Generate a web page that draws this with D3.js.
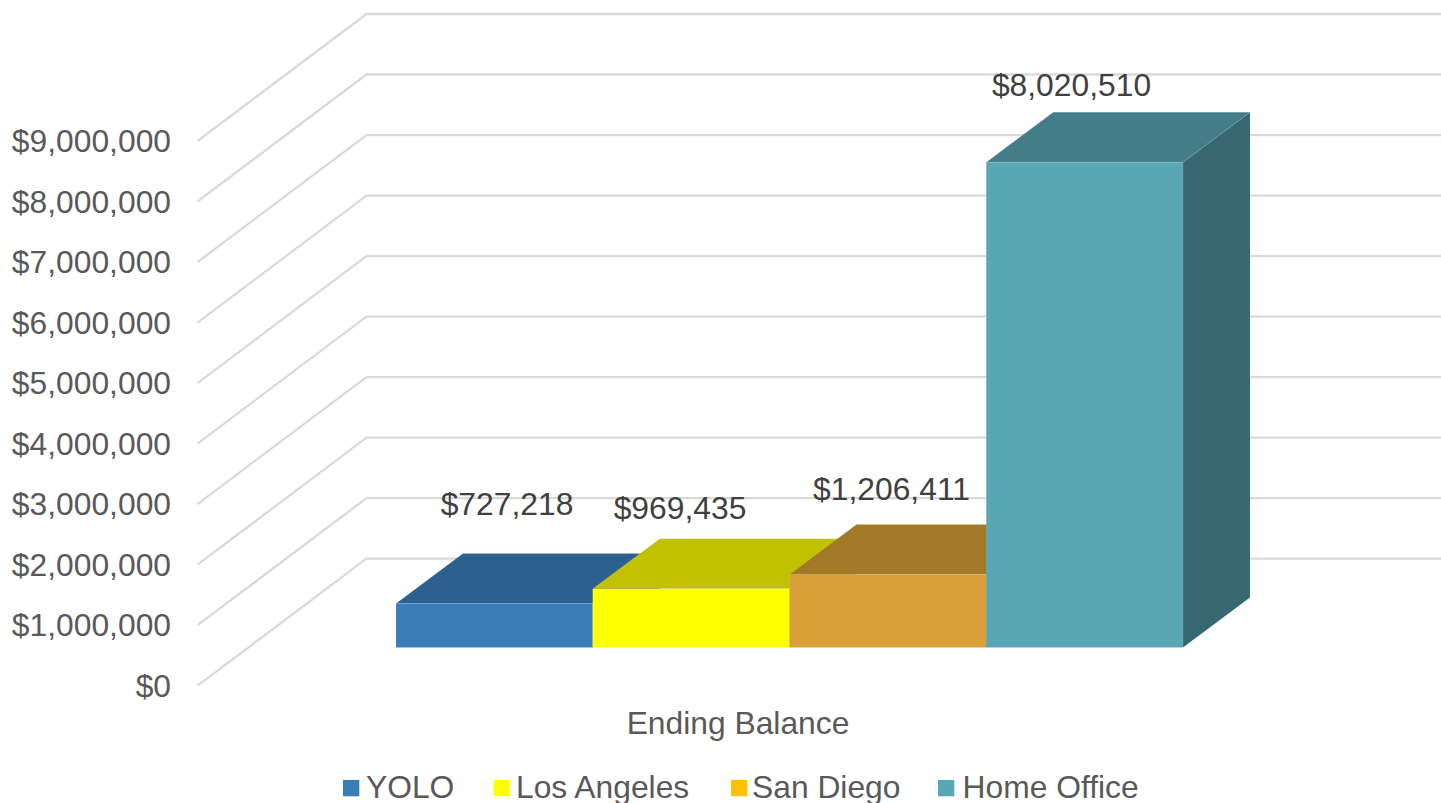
<!DOCTYPE html>
<html><head><meta charset="utf-8">
<script src="https://cdn.jsdelivr.net/npm/d3@7"></script>
<style>html,body{margin:0;padding:0;background:#fff;overflow:hidden}svg{display:block}text{font-family:"Liberation Sans",Arial,sans-serif}</style>
</head><body><svg id="c" width="1441" height="803"></svg>
<script>
const categories = ["Ending Balance"];
const seriesNames = ["YOLO","Los Angeles","San Diego","Home Office"];
const seriesValues = [727218,969435,1206411,8020510];
const valueLabels = ["$727,218","$969,435","$1,206,411","$8,020,510"];
const frontColors = ["#3A7EB8","#FFFF00","#D99F38","#59A6B4"];
const topColors = ["#2C618F","#C1C100","#A27829","#437D87"];
const sideColors = ["#265474","#A8A800","#8C6823","#376770"];
const legendColors = ["#3A7EB8","#FFFF00","#FFC000","#59A6B4"];
const tickValues = [0,1e6,2e6,3e6,4e6,5e6,6e6,7e6,8e6,9e6];

const svg = d3.select("#c");
const yFront = d3.scaleLinear().domain([0,9e6]).range([685.7,141]);
const yBack  = d3.scaleLinear().domain([0,9e6]).range([558.7,14]);
const yBar   = d3.scaleLinear().domain([0,9e6]).range([647.5,647.5-9*60.5]);
const xBar   = d3.scaleBand().domain(seriesNames).range([396,1183]);
const wallLeft = 197.5, wallBack = 366.5, wallRight = 1441;
const depthX = 67, depthY = 50;
const fmt = d3.format("$,");

// gridlines on side wall and back wall
svg.append("g").selectAll("path").data(tickValues).join("path")
  .attr("fill","none").attr("stroke","#DADADA").attr("stroke-width",2.3)
  .attr("d",d=>d3.line()([[wallLeft,yFront(d)],[wallBack,yBack(d)],[wallRight,yBack(d)]]));

// axis labels
svg.append("g").selectAll("text").data(tickValues).join("text")
  .attr("x",171).attr("y",d=>yFront(d)+11).attr("text-anchor","end")
  .attr("font-size",31.8).attr("fill","#595959").text(d=>fmt(d));

// bars
const bars = svg.append("g").selectAll("g").data(seriesNames).join("g");
bars.each(function(name,i){
  const g = d3.select(this);
  const x0 = xBar(name), x1 = x0 + xBar.bandwidth();
  const yt = yBar(seriesValues[i]), yb = yBar(0);
  const edge = p => p.attr("stroke","#fff").attr("stroke-opacity",0.08).attr("stroke-width",1);
  g.append("path").attr("fill",sideColors[i]).call(edge)
    .attr("d",d3.line()([[x1,yt],[x1+depthX,yt-depthY],[x1+depthX,yb-depthY],[x1,yb]])+"Z");
  g.append("path").attr("fill",topColors[i]).call(edge)
    .attr("d",d3.line()([[x0,yt],[x0+depthX,yt-depthY],[x1+depthX,yt-depthY],[x1,yt]])+"Z");
  g.append("rect").attr("x",x0).attr("y",yt).attr("width",x1-x0).attr("height",yb-yt)
    .attr("fill",frontColors[i]).call(edge);
});

// value labels
const labelCx = [507,680,891.5,1071.5];
const labelBase = [515,519,500,96];
svg.append("g").selectAll("text").data(valueLabels).join("text")
  .attr("x",(d,i)=>labelCx[i]).attr("y",(d,i)=>labelBase[i]).attr("text-anchor","middle")
  .attr("font-size",31.8).attr("fill","#404040").text(d=>d);

// category label
svg.append("text").attr("x",738).attr("y",734).attr("text-anchor","middle")
  .attr("font-size",31.8).attr("fill","#595959").text(categories[0]);

// legend
const legendSwatch = [343,493.5,731,938], legendText = [366,516,752,962.5];
const lg = svg.append("g").selectAll("g").data(seriesNames).join("g");
lg.append("rect").attr("x",(d,i)=>legendSwatch[i]).attr("y",780).attr("width",16.3).attr("height",16.3)
  .attr("fill",(d,i)=>legendColors[i]);
lg.append("text").attr("x",(d,i)=>legendText[i]).attr("y",798)
  .attr("font-size",31.8).attr("fill","#595959").text(d=>d);
</script></body></html>
